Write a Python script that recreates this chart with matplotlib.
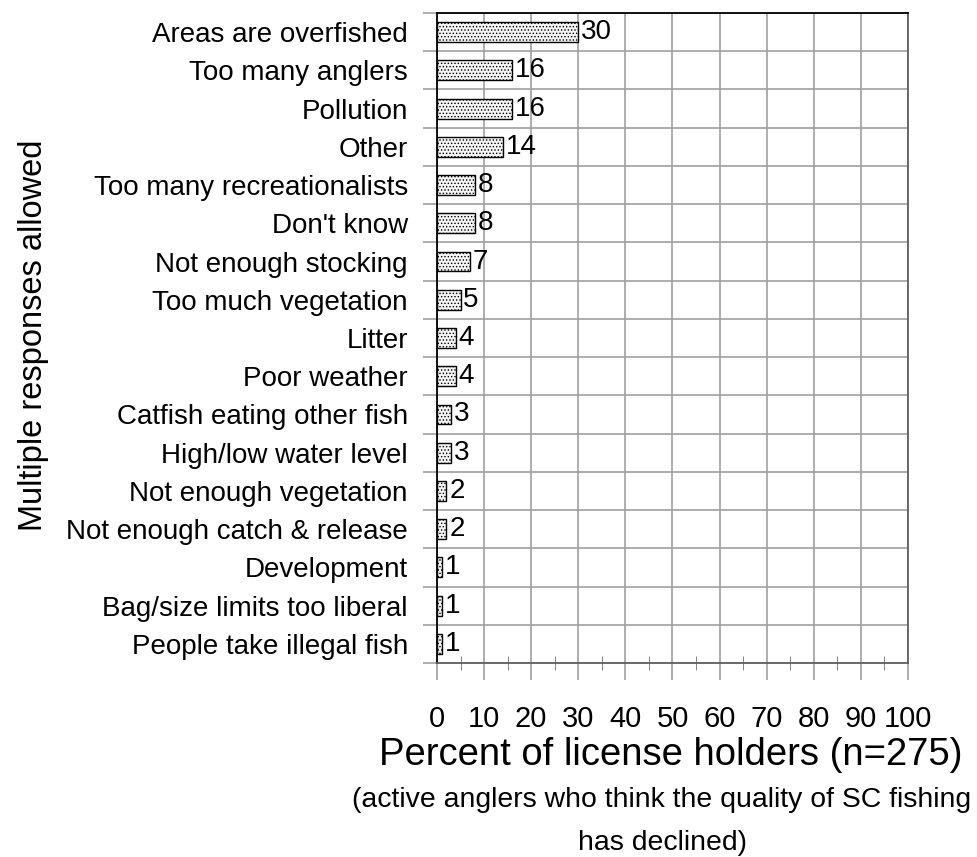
import matplotlib
matplotlib.use('Agg')
import matplotlib.pyplot as plt
import numpy as np

plt.rcParams['font.family'] = ['Liberation Sans', 'DejaVu Sans']
plt.rcParams['hatch.linewidth'] = 0.6

reasons = ['Areas are overfished', 'Too many anglers', 'Pollution', 'Other',
           'Too many recreationalists', "Don't know", 'Not enough stocking',
           'Too much vegetation', 'Litter', 'Poor weather',
           'Catfish eating other fish', 'High/low water level',
           'Not enough vegetation', 'Not enough catch & release',
           'Development', 'Bag/size limits too liberal', 'People take illegal fish']
percent = [30, 16, 16, 14, 8, 8, 7, 5, 4, 4, 3, 3, 2, 2, 1, 1, 1]
xticks = list(range(0, 101, 10))

fig = plt.figure(figsize=(9.78, 8.57), dpi=100)
ax = fig.add_axes([0.4468, 0.2264, 0.4816, 0.7584])

y = np.arange(len(reasons))
ax.barh(y, percent, height=0.52, color='#f4f4f4', edgecolor='black',
        hatch='.....', linewidth=1, zorder=3)
for yi, v in zip(y, percent):
    ax.text(v + 0.6, yi, str(v), va='center', ha='left', fontsize=20, zorder=4)

ax.set_xlim(0, 100)
ax.set_ylim(len(reasons) - 0.5, -0.5)

# category boundaries as gridlines
ax.set_yticks(np.arange(-0.5, len(reasons)), minor=False)
ax.set_yticklabels([])
ax.set_yticks(y, minor=True)
ax.set_yticklabels(reasons, minor=True, fontsize=20)
ax.tick_params(axis='y', which='minor', length=0, pad=21)
ax.tick_params(axis='y', which='major', length=10, color='#a0a0a0', width=1.2)

ax.set_xticks(xticks)
ax.set_xticklabels([str(t) for t in xticks], fontsize=21)
ax.set_xticks(np.arange(5, 100, 10), minor=True)
ax.tick_params(axis='x', which='major', length=12, color='#a0a0a0', width=1.2, pad=18)
ax.tick_params(axis='x', which='minor', length=10, direction='inout', color='#707070')

ax.grid(True, which='major', color='#a0a0a0', linewidth=1.2, zorder=0)
ax.set_axisbelow(True)

ax.spines['top'].set_color('black')
ax.spines['left'].set_color('black')
ax.spines['bottom'].set_color('#606060')
ax.spines['right'].set_color('#606060')
for s in ax.spines.values():
    s.set_linewidth(1.3)

fig.text(0.034, 0.609, 'Multiple responses allowed', rotation=90,
         ha='center', va='center', fontsize=23.5)

fig.text(0.686, 0.1074, 'Percent of license holders (n=275)', ha='center', va='baseline',
         fontsize=27.5)
fig.text(0.676, 0.058, '(active anglers who think the quality of SC fishing',
         ha='center', va='baseline', fontsize=20.4)
fig.text(0.677, 0.0085, 'has declined)', ha='center', va='baseline', fontsize=20.4)

fig.savefig('out.png', dpi=100)
